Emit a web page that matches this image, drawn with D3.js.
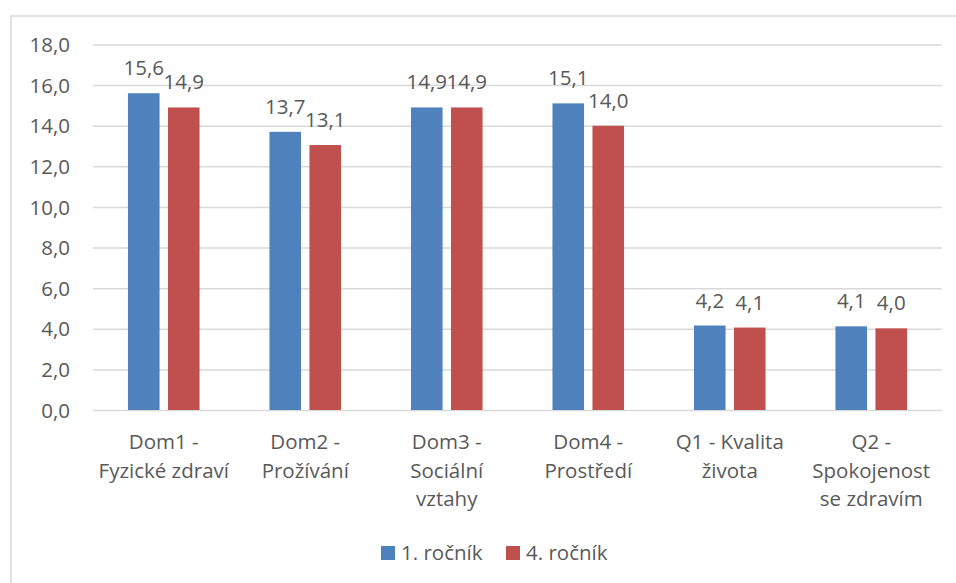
<!DOCTYPE html>
<html>
<head>
<meta charset="utf-8">
<script src="https://cdn.jsdelivr.net/npm/d3@7"></script>
<style>
    body { margin: 0; background: #fff; }
    text { font-family: "Open Sans", sans-serif; fill: #595959; }
</style>
</head>
<body>
<div id="chart"></div>
<script>
// Data
const categories = [
    ["Dom1 -", "Fyzické zdraví"],
    ["Dom2 -", "Prožívání"],
    ["Dom3 -", "Sociální", "vztahy"],
    ["Dom4 -", "Prostředí"],
    ["Q1 - Kvalita", "života"],
    ["Q2 -", "Spokojenost", "se zdravím"]
];
const seriesNames = ["1. ročník", "4. ročník"];
const rocnik1 = [15.6, 13.7, 14.9, 15.1, 4.16, 4.12];
const rocnik4 = [14.9, 13.05, 14.9, 14.0, 4.06, 4.02];
const yTicks = [0, 2, 4, 6, 8, 10, 12, 14, 16, 18];
const colors = ["#4F81BD", "#C0504D"];

const width = 956, height = 583;
const margin = {top: 44.5, right: 14, bottom: 173, left: 93};
const fontSize = "20.5px";

const svg = d3.select("#chart").append("svg")
    .attr("width", width)
    .attr("height", height);

// Chart border
svg.append("rect")
    .attr("x", 11).attr("y", 16)
    .attr("width", width + 20).attr("height", height + 20)
    .attr("fill", "none")
    .attr("stroke", "#d9d9d9")
    .attr("stroke-width", 1.5);

const keys = categories.map((c, i) => i);

const x0 = d3.scaleBand()
    .domain(keys)
    .range([margin.left, width - margin.right]);

const x1 = d3.scaleBand()
    .domain(seriesNames)
    .range([0, x0.bandwidth()])
    .paddingInner(0.21)
    .paddingOuter(0.874);

const y = d3.scaleLinear()
    .domain([0, 18])
    .range([height - margin.bottom, margin.top]);

const fmt = v => d3.format(".1f")(v).replace(".", ",");

// Gridlines + y labels
const yAxis = svg.append("g")
    .attr("transform", `translate(${margin.left},0)`)
    .call(d3.axisLeft(y).tickValues(yTicks).tickSize(-(width - margin.left - margin.right)).tickPadding(23).tickFormat(fmt));
yAxis.select(".domain").remove();
yAxis.selectAll("line").attr("stroke", "#d9d9d9").attr("stroke-width", 1.5);
yAxis.selectAll("text")
    .style("font-family", "'Open Sans', sans-serif")
    .style("font-size", fontSize)
    .attr("fill", "#595959")
    .attr("dy", "0.35em");

// Bars
const rows = keys.map(i => ({i, values: [rocnik1[i], rocnik4[i]]}));

const groups = svg.selectAll(".grp")
    .data(rows)
    .enter().append("g")
    .attr("class", "grp")
    .attr("transform", d => `translate(${x0(d.i)},0)`);

groups.selectAll("rect")
    .data(d => d.values.map((v, k) => ({k, v})))
    .enter().append("rect")
    .attr("x", d => x1(seriesNames[d.k]))
    .attr("y", d => y(d.v))
    .attr("width", x1.bandwidth())
    .attr("height", d => y(0) - y(d.v))
    .attr("fill", d => colors[d.k]);

groups.selectAll(".lbl")
    .data(d => d.values.map((v, k) => ({k, v})))
    .enter().append("text")
    .attr("class", "lbl")
    .attr("x", d => x1(seriesNames[d.k]) + x1.bandwidth() / 2)
    .attr("y", d => y(d.v) - 18)
    .attr("text-anchor", "middle")
    .style("font-size", fontSize)
    .text(d => fmt(d.v));

// Category labels
const catText = svg.selectAll(".cat")
    .data(categories)
    .enter().append("text")
    .attr("class", "cat")
    .attr("text-anchor", "middle")
    .style("font-size", fontSize)
    .attr("x", (d, i) => x0(i) + x0.bandwidth() / 2)
    .attr("y", 449);

catText.selectAll("tspan")
    .data(d => d)
    .enter().append("tspan")
    .attr("x", function() { return d3.select(this.parentNode).attr("x"); })
    .attr("dy", (d, j) => j === 0 ? 0 : 28.5)
    .text(d => d);

// Legend
const legendX = [381, 506];
const legend = svg.selectAll(".leg")
    .data(seriesNames)
    .enter().append("g")
    .attr("class", "leg")
    .attr("transform", (d, i) => `translate(${legendX[i]},546)`);

legend.append("rect")
    .attr("width", 14).attr("height", 14)
    .attr("fill", (d, i) => colors[i]);

legend.append("text")
    .attr("x", 20)
    .attr("y", 7)
    .attr("dy", "0.35em")
    .style("font-size", fontSize)
    .text(d => d);
</script>
</body>
</html>
